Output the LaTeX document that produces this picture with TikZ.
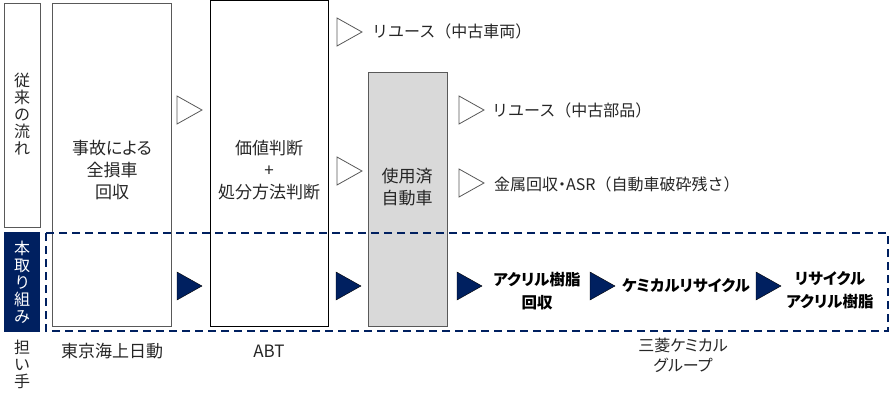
\documentclass[tikz,border=0pt]{standalone}
\usepackage{fontspec}
\setmainfont{Noto Sans CJK JP}[RawFeature=+palt]
\newfontfamily\fullwidthfont{Noto Sans CJK JP}
\newfontfamily\propfont{Noto Sans CJK JP}[RawFeature=+palt]
\usetikzlibrary{positioning}
\definecolor{navy}{RGB}{0,32,96}
\definecolor{boxgray}{RGB}{217,217,217}
\definecolor{edge}{RGB}{89,89,89}
\definecolor{txt}{RGB}{38,38,38}
\tikzset{
  stage/.style={draw=edge, line width=0.9pt, fill=white},
  usedcar/.style={draw=edge, line width=0.9pt, fill=boxgray},
  lbl/.style={text=txt, font=\fontsize{17}{22}\selectfont, align=center, inner sep=0pt},
  outlbl/.style={text=txt, font=\fullwidthfont\fontsize{16}{22}\selectfont, align=left, inner sep=0pt, anchor=west},
  boldlbl/.style={text=black, font=\fontsize{15.5}{23}\selectfont\bfseries, align=center, inner sep=0pt},
  vlbl/.style={text=txt, font=\fontsize{16}{17}\selectfont, align=center, inner sep=0pt},
  outtri/.style={draw=edge, line width=0.8pt, fill=white},
  navytri/.style={fill=navy},
  dashbox/.style={draw=navy, line width=1.6pt, dash pattern=on 8pt off 5pt},
}
\newcommand\trishape[3]{\draw[#1] (#2,#3) -- ++(25,14) -- ++(-25,14) -- cycle;}
\begin{document}
\begin{tikzpicture}[x=1pt,y=-1pt]
\useasboundingbox (0,0) rectangle (891,401);
% row labels
\node[draw=edge, line width=0.9pt, minimum width=36pt, minimum height=224pt, anchor=north west, inner sep=0pt] (conv) at (4,3) {};
\node[vlbl] (convt) at (22,114) {従\\来\\の\\流\\れ};
\node[fill=navy, minimum width=36pt, minimum height=100pt, anchor=north west, inner sep=0pt] (ours) at (4,232) {};
\node[vlbl, text=white] (ourst) at (22,282) {本\\取\\り\\組\\み};
\node[vlbl] (bearer) at (22,364) {担\\い\\手};
% stage boxes
\node[stage, minimum width=119pt, minimum height=323pt, anchor=north west, inner sep=0pt] (s1) at (52,3) {};
\node[stage, draw=black, minimum width=118pt, minimum height=326pt, anchor=north west, inner sep=0pt] (s2) at (210,0) {};
\node[usedcar, minimum width=79pt, minimum height=254pt, anchor=north west, inner sep=0pt] (s3) at (368,72) {};
% dashed box
\draw[dashbox] (46,233) rectangle (888,331);
% stage texts
\node[lbl] (t1) at (112,170) {事故による\\全損車\\回収};
\node[lbl] (t2) at (269,170) {価値判断\\+\\処分方法判断};
\node[lbl] (t3) at (407,187) {使用済\\自動車};
% conventional outputs
\node[outlbl] (o1) at (372,31) {リユース（中古車両）};
\node[outlbl] (o2) at (492,110) {リユース（中古部品）};
\node[outlbl] (o3) at (494,184) {金属回収{\propfont ・}ASR（自動車破砕残さ）};
% outline triangles
\trishape{outtri}{177}{96}
\trishape{outtri}{337}{18}
\trishape{outtri}{337}{157}
\trishape{outtri}{459}{96}
\trishape{outtri}{459}{169}
% navy triangles
\trishape{navytri}{177}{272}
\trishape{navytri}{336}{272}
\trishape{navytri}{457}{272}
\trishape{navytri}{590}{272}
\trishape{navytri}{756}{272}
% new flow texts
\node[boldlbl] (n1) at (537,291) {アクリル樹脂\\回収};
\node[boldlbl] (n2) at (686,286) {ケミカルリサイクル};
\node[boldlbl] (n3) at (830,290) {リサイクル\\アクリル樹脂};
% bearers
\node[lbl] (b1) at (112,351) {東京海上日動};
\node[lbl] (b2) at (269,351) {ABT};
\node[lbl, font=\fontsize{16}{20}\selectfont] (b3) at (683,355) {三菱ケミカル\\グループ};
\end{tikzpicture}
\end{document}
